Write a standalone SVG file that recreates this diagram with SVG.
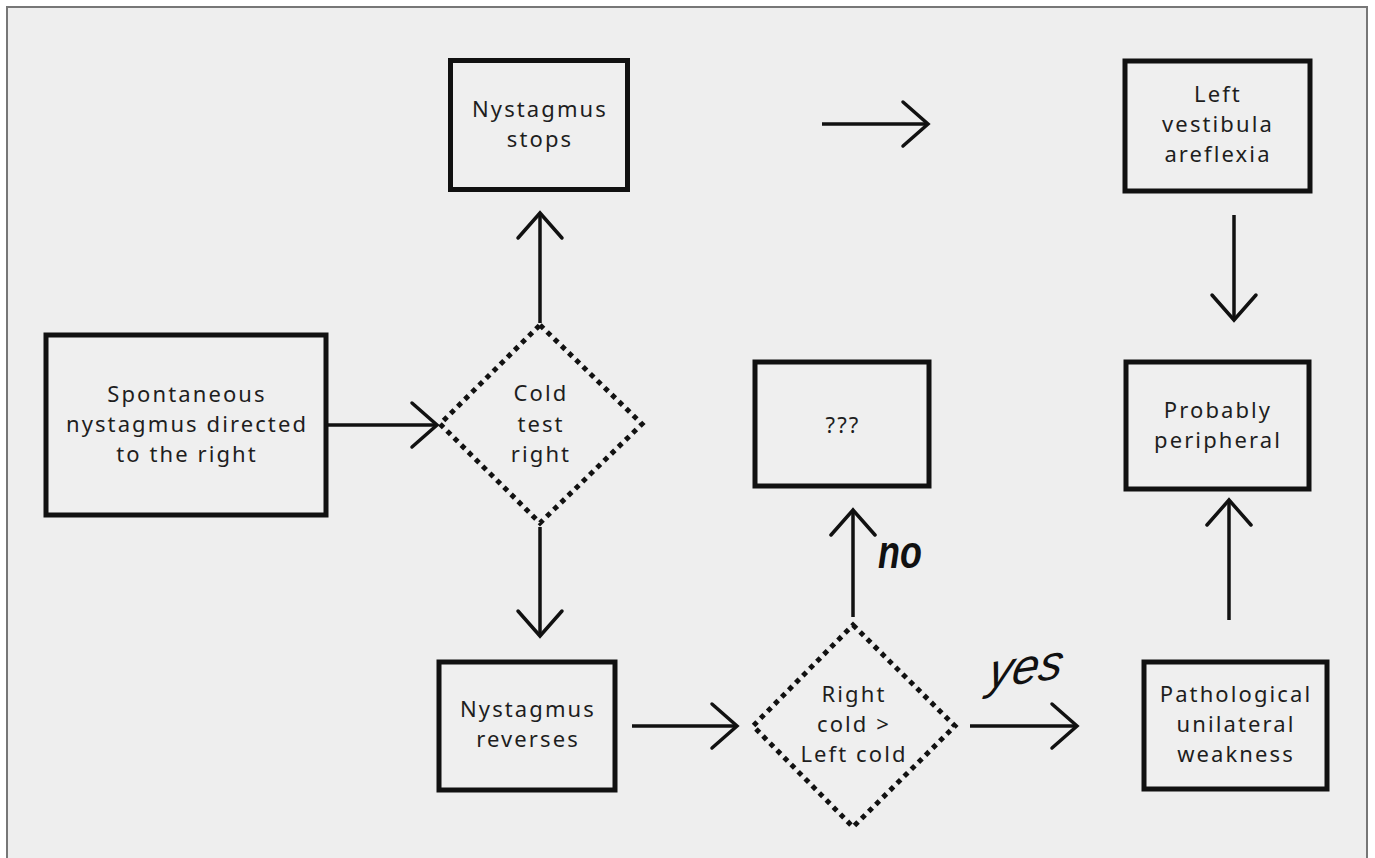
<svg xmlns="http://www.w3.org/2000/svg" width="1375" height="858" viewBox="0 0 1375 858">
<defs>
<style>
.box{fill:#efefef;stroke:#111;stroke-width:5}
.dia{fill:#efefef;stroke:#111;stroke-width:5;stroke-dasharray:5 5}
.lbl{font-family:"Noto Sans","DejaVu Sans",sans-serif;font-size:22px;letter-spacing:2.1px;fill:#1e1e1e;text-anchor:middle}
.conn{fill:none;stroke:#111;stroke-width:3.5}
.hand{font-family:"Liberation Sans",Arial,sans-serif;font-style:italic;fill:#111}
</style>
<marker id="arr" viewBox="-30 -25 34 50" refX="0" refY="0" markerWidth="34" markerHeight="50" markerUnits="userSpaceOnUse" orient="auto" overflow="visible">
<path d="M -25 -22 L 0 0 L -25 22" fill="none" stroke="#111" stroke-width="3.5" stroke-linecap="round" stroke-linejoin="miter"/>
</marker>
</defs>
<rect x="0" y="0" width="1375" height="858" fill="#ffffff"/>
<rect x="7" y="7" width="1360" height="860" fill="#eeeeee" stroke="#777" stroke-width="2"/>

<g id="connectors">
<path class="conn" d="M 328 425 L 437 425" marker-end="url(#arr)"/>
<path class="conn" d="M 540 323 L 540 213" marker-end="url(#arr)"/>
<path class="conn" d="M 540 527 L 540 636" marker-end="url(#arr)"/>
<path class="conn" d="M 632 726 L 737 726" marker-end="url(#arr)"/>
<path class="conn" d="M 853 617 L 853 510" marker-end="url(#arr)"/>
<path class="conn" d="M 970 726 L 1077 726" marker-end="url(#arr)"/>
<path class="conn" d="M 1229 620 L 1229 500" marker-end="url(#arr)"/>
<path class="conn" d="M 1234 215 L 1234 320" marker-end="url(#arr)"/>
<path class="conn" d="M 822 124 L 928 124" marker-end="url(#arr)"/>
<text class="hand" x="878" y="568" font-size="46" font-weight="bold" transform="translate(878 568) scale(0.78 1) translate(-878 -568)">no</text>
<text class="hand" x="985" y="683" font-size="48" transform="rotate(-8 1025 675) translate(985 683) skewX(-18) translate(-985 -683)">yes</text>
</g>

<g id="n-spontaneous">
<rect class="box" x="46" y="335" width="280" height="180"/>
<text class="lbl" x="187" y="402">Spontaneous</text>
<text class="lbl" x="187" y="432">nystagmus directed</text>
<text class="lbl" x="187" y="462">to the right</text>
</g>

<g id="n-cold">
<polygon class="dia" points="540,325 642,424 540,523 440,424"/>
<text class="lbl" x="541" y="401">Cold</text>
<text class="lbl" x="541" y="432">test</text>
<text class="lbl" x="541" y="462">right</text>
</g>

<g id="n-stops">
<rect class="box" x="450.5" y="60.5" width="177" height="129"/>
<text class="lbl" x="540" y="117">Nystagmus</text>
<text class="lbl" x="540" y="147">stops</text>
</g>

<g id="n-reverses">
<rect class="box" x="439" y="662" width="176" height="128"/>
<text class="lbl" x="528" y="717">Nystagmus</text>
<text class="lbl" x="528" y="747">reverses</text>
</g>

<g id="n-rightcold">
<polygon class="dia" points="853,625 955,726 853,827 753,726"/>
<text class="lbl" x="854" y="702">Right</text>
<text class="lbl" x="854" y="732">cold &gt;</text>
<text class="lbl" x="854" y="762">Left cold</text>
</g>

<g id="n-unknown">
<rect class="box" x="755" y="362" width="174" height="124"/>
<text class="lbl" x="843" y="433">???</text>
</g>

<g id="n-areflexia">
<rect class="box" x="1125" y="61" width="185" height="130"/>
<text class="lbl" x="1218" y="102">Left</text>
<text class="lbl" x="1218" y="132">vestibula</text>
<text class="lbl" x="1218" y="162">areflexia</text>
</g>

<g id="n-peripheral">
<rect class="box" x="1126" y="362" width="183" height="127"/>
<text class="lbl" x="1218" y="418">Probably</text>
<text class="lbl" x="1218" y="448">peripheral</text>
</g>

<g id="n-pathological">
<rect class="box" x="1144" y="662" width="183" height="127"/>
<text class="lbl" x="1236" y="702">Pathological</text>
<text class="lbl" x="1236" y="732">unilateral</text>
<text class="lbl" x="1236" y="762">weakness</text>
</g>
</svg>
